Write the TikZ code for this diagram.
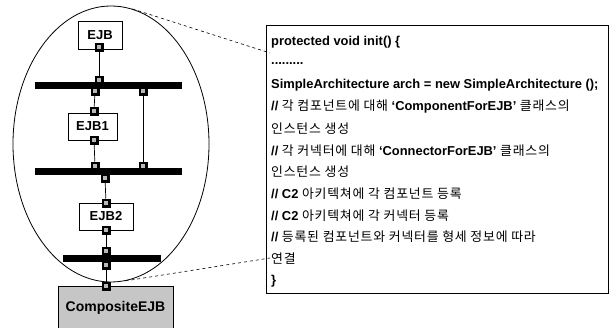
\documentclass[tikz,border=0pt]{standalone}
\usepackage{fontspec}
\setmainfont{Liberation Sans}
\newfontfamily\kr[LetterSpace=6]{Noto Sans CJK KR}
\usetikzlibrary{shapes.geometric}
\newcommand{\ko}[1]{{\kr\mdseries #1}}
\begin{document}
\begin{tikzpicture}[x=1pt,y=-1pt,
  port/.style={draw=black,fill=black,minimum size=8.5pt,inner sep=0pt,
    path picture={\fill[gray!55] ([shift={(-1.6pt,-1.6pt)}]path picture bounding box.center) rectangle ++(3.2pt,3.2pt);}},
  bar/.style={fill=black,minimum height=7pt,inner sep=0pt},
  ejb/.style={draw=black,line width=0.8pt,inner sep=0pt,font=\bfseries\fontsize{13}{13}\selectfont},
  wire/.style={line width=0.7pt},
  link/.style={dashed,line width=0.6pt},
  code/.style={anchor=west,inner sep=0pt,font=\bfseries\fontsize{12.9}{14}\selectfont}
]
\useasboundingbox (0,0) rectangle (611,328);
% ellipse
\node[ellipse,draw=black,line width=0.8pt,minimum width=196pt,minimum height=276pt,inner sep=0pt] (ell) at (111,144) {};
% component boxes
\node[ejb,minimum width=44pt,minimum height=28pt] (ejb) at (100,35.5) {EJB};
\node[ejb,minimum width=49pt,minimum height=27pt] (ejb1) at (92.5,126.5) {EJB1};
\node[ejb,minimum width=54pt,minimum height=27pt] (ejb2) at (106,216.5) {EJB2};
\node[ejb,fill=gray!45,minimum width=115pt,minimum height=44pt,font=\bfseries\fontsize{14}{14}\selectfont] (comp) at (115.5,308) {CompositeEJB};
% buses
\node[bar,minimum width=147pt] (bar1) at (108.5,85.5) {};
\node[bar,minimum width=147pt] (bar2) at (108.5,172) {};
\node[bar,minimum width=98pt] (bar3) at (112,258.5) {};
% ports
\node[port] (pe) at (99,47) {};
\node[port] (pb1t) at (99,80) {};
\node[port] (pb1a) at (95,91) {};
\node[port] (pb1b) at (143,91) {};
\node[port] (pe1t) at (94,111) {};
\node[port] (pe1b) at (94,140) {};
\node[port] (pb2a) at (95,166) {};
\node[port] (pb2b) at (143,166) {};
\node[port] (pb2c) at (105,178) {};
\node[port] (pe2t) at (106,203) {};
\node[port] (pe2b) at (106,230) {};
\node[port] (pb3t) at (106,251) {};
\node[port] (pb3b) at (106,265) {};
\node[port] (pct) at (106,286) {};
% wires
\draw[wire] (pe) -- (pb1t);
\draw[wire] (pb1a) -- (pe1t);
\draw[wire] (pb1b) -- (pb2b);
\draw[wire] (pe1b) -- (pb2a);
\draw[wire] (pb2c) -- (pe2t);
\draw[wire] (pe2b) -- (pb3t);
\draw[wire] (pb3b) -- (pct);
% code box
\node[draw=black,line width=0.8pt,minimum width=342pt,minimum height=268pt,inner sep=0pt] (codebox) at (437,159) {};
\node[code] (l1) at (271,42) {protected void init() \{};
\node[code] (l2) at (271,63.7) {.........};
\node[code] (l3) at (271,85.4) {SimpleArchitecture arch = new SimpleArchitecture ();};
\node[code] (l4) at (271,107) {// \ko{각 컴포넌트에 대해} `ComponentForEJB' \ko{클래스의}};
\node[code] (l5) at (271,128.8) {\ko{인스턴스 생성}};
\node[code] (l6) at (271,150.5) {// \ko{각 커넥터에 대해} `ConnectorForEJB' \ko{클래스의}};
\node[code] (l7) at (271,172) {\ko{인스턴스 생성}};
\node[code] (l8) at (271,194) {// C2 \ko{아키텍쳐에 각 컴포넌트 등록}};
\node[code] (l9) at (271,215.6) {// C2 \ko{아키텍쳐에 각 커넥터 등록}};
\node[code] (l10) at (271,237) {// \ko{등록된 컴포넌트와 커넥터를 형세 정보에 따라}};
\node[code] (l11) at (271,259) {\ko{연결}};
\node[code] (l12) at (271,280.7) {\}};
% callouts
\coordinate (c1) at (270,53);
\coordinate (c2) at (270,258);
\draw[link] (ell.81) -- (c1);
\draw[link] (ell.-84) -- (c2);
\end{tikzpicture}
\end{document}
